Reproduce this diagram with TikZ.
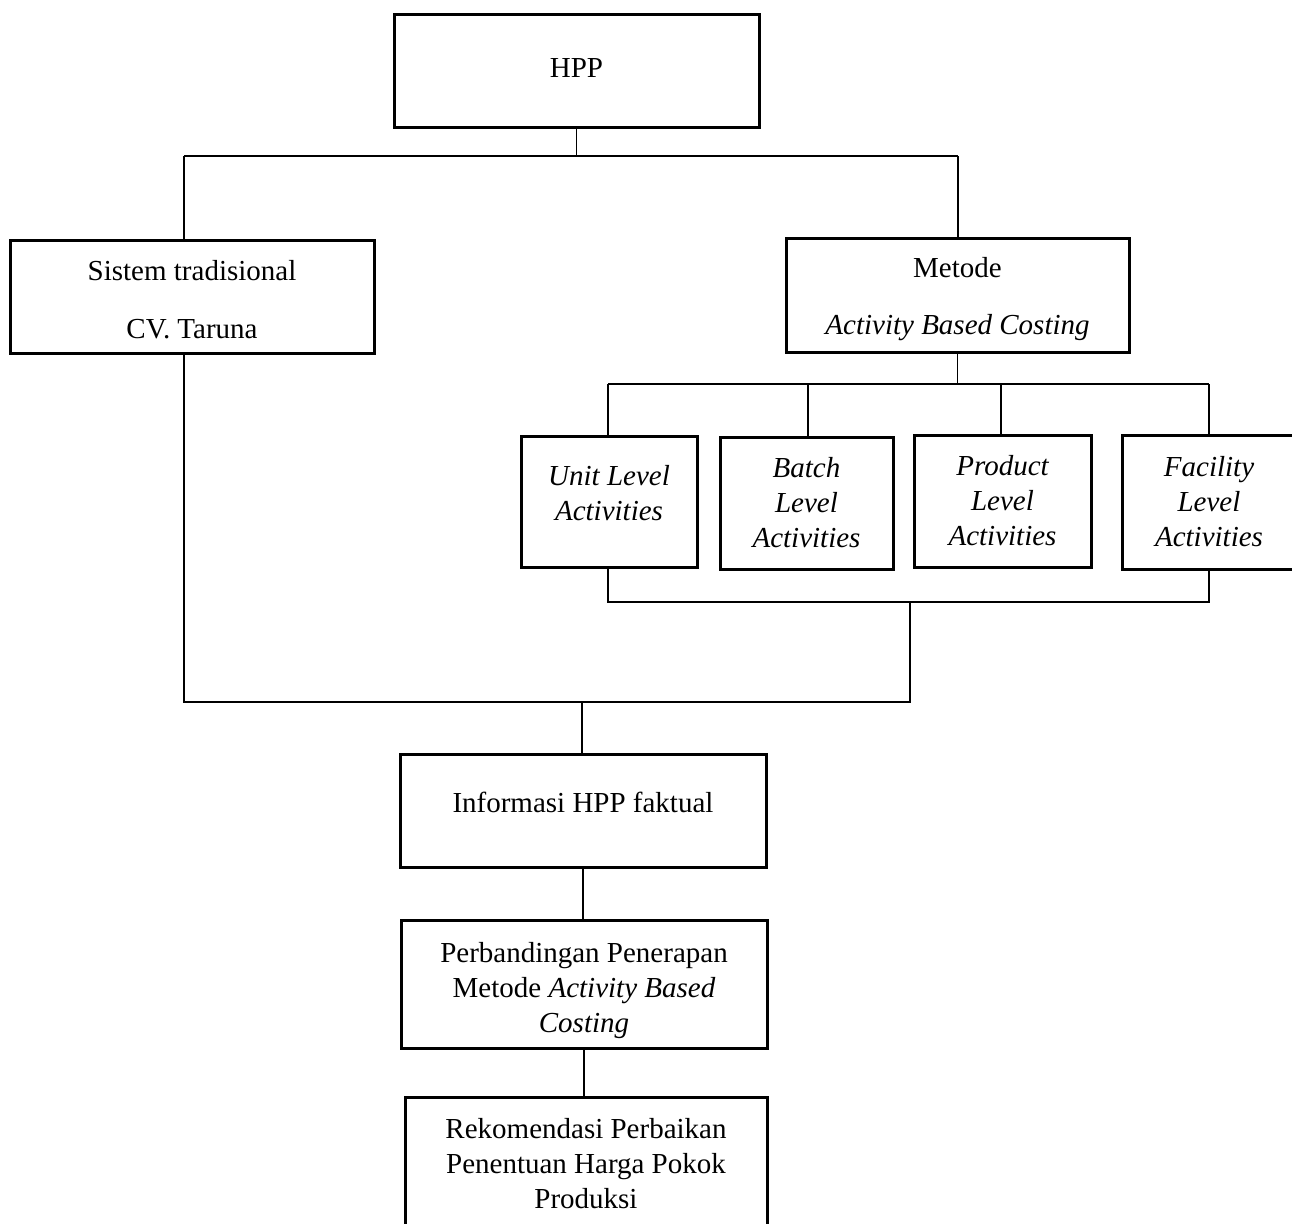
\documentclass[tikz,border=0pt]{standalone}
\usepackage{fontspec}
\setmainfont{Liberation Serif}
\begin{document}
\begin{tikzpicture}[x=0.5pt,y=-0.5pt,
  txt/.style={align=center, inner sep=0pt, font=\fontsize{14.5}{17.5}\selectfont},
  box/.style={txt, draw, line width=1.5pt},
  conn/.style={line width=0.6pt}]
\useasboundingbox (0,0) rectangle (1292,1223);

% boxes
\node[box, minimum width=182.5pt, minimum height=56.5pt] (hpp) at (576.5,70.5) {};
\node[txt] (hpp-t) at (576.5,68) {HPP};
\node[box, minimum width=182pt, minimum height=56.5pt] (sistem) at (192,296.5) {};
\node[txt] (sistem-t) at (192,299.5) {Sistem tradisional\\[11.5pt]CV. Taruna};
\node[box, minimum width=171.5pt, minimum height=57pt] (metode) at (957.5,295) {};
\node[txt] (metode-t) at (957.5,299) {Metode\\[11pt]\textit{Activity Based Costing}};

\node[box, minimum width=88pt, minimum height=65.5pt] (unit) at (609,501.5) {};
\node[txt] (unit-t) at (609,493) {\itshape Unit Level\\\itshape Activities};
\node[box, minimum width=86.5pt, minimum height=66pt] (batch) at (806.5,503) {\itshape Batch\\\itshape Level\\\itshape Activities};
\node[box, minimum width=88.5pt, minimum height=66pt] (product) at (1002.5,501) {\itshape Product\\\itshape Level\\\itshape Activities};
\node[box, minimum width=87pt, minimum height=67pt] (facility) at (1209,502) {\itshape Facility\\\itshape Level\\\itshape Activities};

\node[box, minimum width=183pt, minimum height=56.5pt] (info) at (583,810.5) {};
\node[txt] (info-t) at (583,802) {Informasi HPP faktual};
\node[box, minimum width=183pt, minimum height=64pt] (perb) at (584,984) {};
\node[txt] (perb-t) at (584,991) {Perbandingan Penerapan\\Metode \textit{Activity Based}\\\textit{Costing}};
\node[box, minimum width=181pt, minimum height=66.5pt] (rek) at (586,1163.5) {Rekomendasi Perbaikan\\Penentuan Harga Pokok\\Produksi};

% junction points
\coordinate (jtop) at (576,156);
\coordinate (jL) at (184,156);
\coordinate (jR) at (958,156);
\coordinate (ja) at (957,384);
\coordinate (jaL) at (608,384);
\coordinate (jaB) at (808,384);
\coordinate (jaP) at (1001,384);
\coordinate (jaR) at (1209,384);
\coordinate (jbL) at (608,602);
\coordinate (jbR) at (1209,602);
\coordinate (jm) at (910,602);
\coordinate (jlow) at (910,702);
\coordinate (jlowL) at (184,702);
\coordinate (jin) at (582,702);

% connectors
\draw[conn] (hpp.south) -- (hpp.south |- jtop);
\draw[conn] (jL) -- (jR);
\draw[conn] (jL) -- (jL |- sistem.north);
\draw[conn] (jR) -- (jR |- metode.north);
\draw[conn] (metode.south) -- (metode.south |- ja);
\draw[conn] (jaL) -- (jaR);
\draw[conn] (jaL) -- (jaL |- unit.north);
\draw[conn] (jaB) -- (jaB |- batch.north);
\draw[conn] (jaP) -- (jaP |- product.north);
\draw[conn] (jaR) -- (jaR |- facility.north);
\draw[conn] (jbL |- unit.south) -- (jbL) -- (jbR) -- (jbR |- facility.south);
\draw[conn] (jm) -- (jlow) -- (jlowL) -- (jlowL |- sistem.south);
\draw[conn] (jin) -- (jin |- info.north);
\draw[conn] (info.south) -- (info.south |- perb.north);
\draw[conn] (perb.south) -- (perb.south |- rek.north);
\end{tikzpicture}
\end{document}
